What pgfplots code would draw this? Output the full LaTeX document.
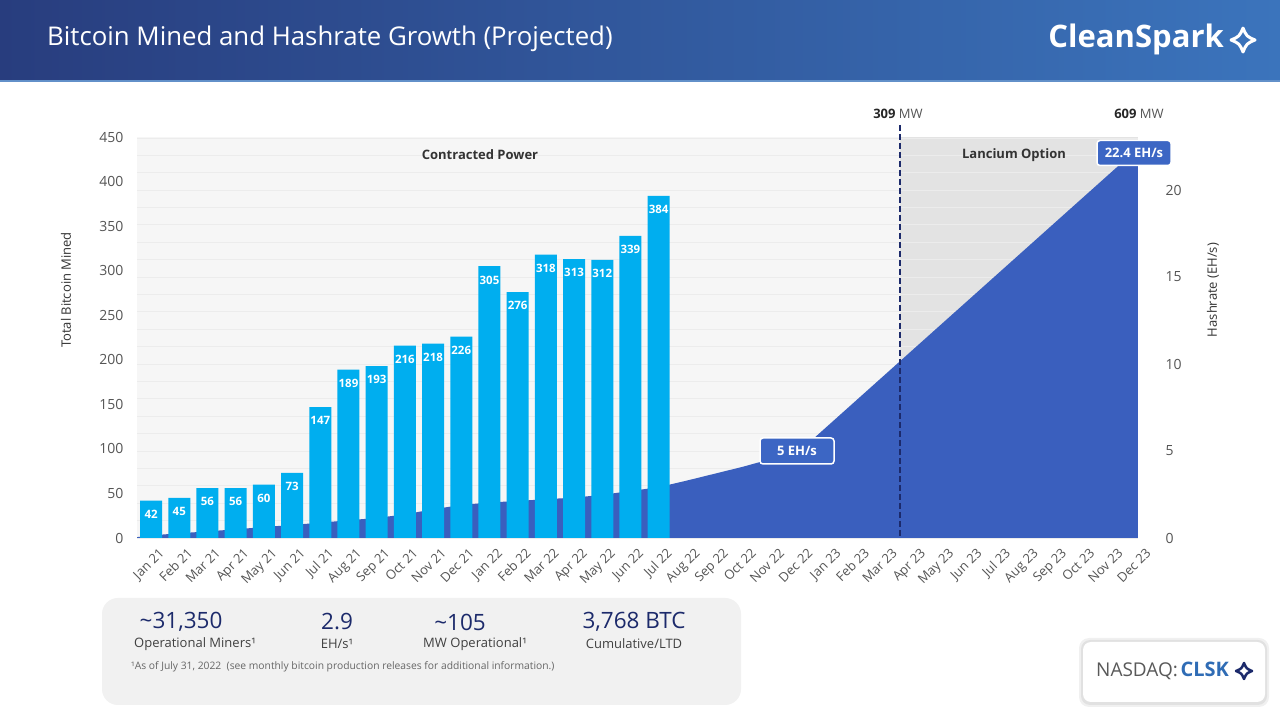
\documentclass[border=0pt]{standalone}
\usepackage{pgfplots}
\pgfplotsset{compat=1.18}
\usepackage{fontspec}
\setmainfont{Open Sans}

\definecolor{hdrL}{HTML}{283D7E}
\definecolor{hdrR}{HTML}{3B74BC}
\definecolor{barcyan}{HTML}{00AEEF}
\definecolor{areablue}{HTML}{3A5FBE}
\definecolor{boxblue}{HTML}{3C66C4}
\definecolor{lightbg}{HTML}{F6F6F6}
\definecolor{graybg}{HTML}{E3E3E3}
\definecolor{gridc}{HTML}{ECECEC}
\definecolor{tickgray}{HTML}{555555}
\definecolor{navy}{HTML}{1C2A6B}
\definecolor{statbg}{HTML}{F1F1F1}
\definecolor{clsk}{HTML}{2F6CB5}

\newcommand{\fs}[1]{\fontsize{#1}{#1}\selectfont}
% four point star of the logo
\newcommand{\spark}[4]{%
  \begin{scope}[shift={(#1)}, scale=#2]
    \draw[#3, line width=#4, line join=round]
      (0,1) .. controls (0.3,0.3) .. (1,0) .. controls (0.3,-0.3) .. (0,-1)
      .. controls (-0.3,-0.3) .. (-1,0) .. controls (-0.3,0.3) .. cycle;
  \end{scope}}

\begin{document}
\begin{tikzpicture}[x=1pt, y=1pt]
\useasboundingbox (0,0) rectangle (1280,720);
\fill[white] (0,0) rectangle (1280,720);

% header
\shade[left color=hdrL, right color=hdrR] (0,638) rectangle (1280,720);
\fill[hdrR!80!white] (0,638) rectangle (1280,640);
\node[anchor=west, text=white, inner sep=0] at (47,681) {\fs{25.8}Bitcoin Mined and Hashrate Growth (Projected)};
\node[anchor=east, text=white, inner sep=0] at (1224,681) {\fs{31}\bfseries CleanSpark};
\spark{1243,680}{12}{white}{3pt}

% plot backgrounds
\fill[lightbg] (137,182) rectangle (900,583);
\fill[graybg] (900,182) rectangle (1138,583);

% hashrate (right axis)
\begin{axis}[
  at={(137pt,182pt)}, anchor=south west, scale only axis,
  width=1001pt, height=401pt,
  xmin=-0.5, xmax=35, ymin=0, ymax=23.05,
  axis x line*=bottom, axis y line*=right,
  axis line style={draw=none},
  major tick length=0pt, minor tick length=0pt,
  xtick={0,...,35},
  xticklabels={Jan 21,Feb 21,Mar 21,Apr 21,May 21,Jun 21,Jul 21,Aug 21,Sep 21,Oct 21,Nov 21,Dec 21,
    Jan 22,Feb 22,Mar 22,Apr 22,May 22,Jun 22,Jul 22,Aug 22,Sep 22,Oct 22,Nov 22,Dec 22,
    Jan 23,Feb 23,Mar 23,Apr 23,May 23,Jun 23,Jul 23,Aug 23,Sep 23,Oct 23,Nov 23,Dec 23},
  x tick label style={rotate=45, anchor=north east, font=\fs{13}, text=tickgray, xshift=2pt, yshift=-8pt},
  ytick={0,5,10,15,20}, minor ytick={1,...,23},
  ymajorgrids, yminorgrids,
  major grid style={gridc, line width=0.7pt},
  minor grid style={gridc, line width=0.7pt},
  yticklabel style={font=\fs{14}, text=tickgray, anchor=west, xshift=24pt},
  /pgf/number format/assume math mode=true,
]
\addplot[fill=areablue, draw=none] coordinates {
  (-0.5,0.05) (0,0.15) (1,0.27) (2,0.38) (3,0.50) (4,0.63) (5,0.75) (6,0.88)
  (7,1.02) (8,1.15) (9,1.36) (10,1.65) (11,1.90) (12,2.04) (13,2.13) (14,2.23)
  (15,2.32) (16,2.48) (17,2.70) (18,2.92) (19,3.30) (20,3.70) (21,4.10)
  (22,4.55) (23,5.0) (35,22.4)
} \closedcycle;
\end{axis}

% bitcoin mined (left axis)
\begin{axis}[
  at={(137pt,182pt)}, anchor=south west, scale only axis,
  width=1001pt, height=401pt,
  xmin=-0.5, xmax=35, ymin=0, ymax=450,
  hide x axis, axis y line*=left,
  axis line style={draw=none}, major tick length=0pt,
  ytick={0,50,...,450},
  yticklabel style={font=\fs{14}, text=tickgray, xshift=-10pt},
  ybar, bar width=22pt,
  nodes near coords, point meta=y,
  nodes near coords style={anchor=north, font=\fs{11.5}\bfseries, text=white, yshift=-6pt},
  /pgf/number format/assume math mode=true,
]
\addplot[fill=barcyan, draw=none] coordinates {
  (0,42) (1,45) (2,56) (3,56) (4,60) (5,73) (6,147) (7,189) (8,193) (9,216)
  (10,218) (11,226) (12,305) (13,276) (14,318) (15,313) (16,312) (17,339) (18,384)
};
\end{axis}

% annotations
\draw[navy, line width=2.5pt, dash pattern=on 6pt off 3pt] (900,595) -- (900,182);
\node at (898,606) {\fs{13}\textcolor{black!85}{\bfseries 309} \textcolor{tickgray}{MW}};
\node at (1139,606) {\fs{13}\textcolor{black!85}{\bfseries 609} \textcolor{tickgray}{MW}};
\node[text=black!80] at (480,565) {\fs{13}\bfseries Contracted Power};
\node[text=black!80] at (1014,565) {\fs{13}\bfseries Lancium Option};
\node[fill=boxblue, draw=white, line width=1.5pt, rounded corners=3pt, text=white,
  minimum width=74pt, minimum height=25pt, inner sep=2pt] at (1134,567) {\fs{13}\bfseries 22.4 EH/s};
\node[fill=boxblue, draw=white, line width=1.5pt, rounded corners=3pt, text=white,
  minimum width=74pt, minimum height=26pt, inner sep=2pt] at (797,269) {\fs{13}\bfseries 5 EH/s};
\node[rotate=90, text=black!80] at (66,430) {\fs{13}Total Bitcoin Mined};
\node[rotate=90, text=black!80] at (1213,430) {\fs{13}Hashrate (EH/s)};

% stats box
\fill[statbg, rounded corners=16pt] (102,15) rectangle (741,122);
\node[text=navy] at (181,98) {\fs{22.5}\textasciitilde31,350};
\node[text=navy] at (337,98) {\fs{22.5}2.9};
\node[text=navy] at (460,98) {\fs{22.5}\textasciitilde105};
\node[text=navy] at (634,98) {\fs{22.5}3,768 BTC};
\node[text=black!75] at (195,76) {\fs{13}Operational Miners¹};
\node[text=black!75] at (337,76) {\fs{13}EH/s¹};
\node[text=black!75] at (475,76) {\fs{13}MW Operational¹};
\node[text=black!75] at (634,76) {\fs{13}Cumulative/LTD};
\node[anchor=west, text=black!60, inner sep=0] at (131,53) {\fs{10.3}¹As of July 31, 2022\ \ (see monthly bitcoin production releases for additional information.)};

% nasdaq box
\fill[black, opacity=0.06, rounded corners=10pt] (1079,13) rectangle (1269,82);
\fill[black, opacity=0.06, rounded corners=9pt] (1081,15) rectangle (1267,80);
\fill[white, rounded corners=8pt] (1083,18) rectangle (1265,78);
\node[anchor=west, inner sep=0] at (1096,49) {\textcolor{black!65}{\fs{19}NASDAQ:} \textcolor{clsk}{\fs{20}\bfseries CLSK}};
\spark{1244,49}{8}{navy}{2.5pt}
\end{tikzpicture}
\end{document}
